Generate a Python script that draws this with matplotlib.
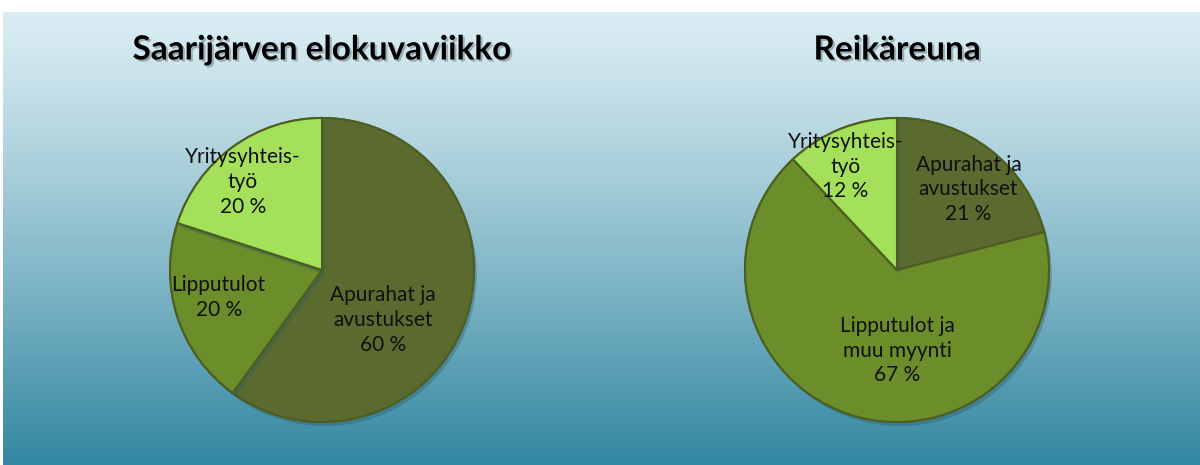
import matplotlib.pyplot as plt
import matplotlib.patheffects as pe
import numpy as np

# data
otsikko_vasen = 'Saarijärven elokuvaviikko'
nimet_vasen = ['Apurahat ja\navustukset', 'Lipputulot', 'Yritysyhteis-\ntyö']
osuudet_vasen = [60, 20, 20]

otsikko_oikea = 'Reikäreuna'
nimet_oikea = ['Apurahat ja\navustukset', 'Lipputulot ja\nmuu myynti', 'Yritysyhteis-\ntyö']
osuudet_oikea = [21, 67, 12]

varit = ['#5b6b2f', '#6b8e2b', '#a4e05a']

# label positions in radius units (Excel-like placement)
paikat_vasen = [(0.40, -0.33), (-0.68, -0.18), (-0.52, 0.58)]
paikat_oikea = [(0.47, 0.53), (0.0, -0.53), (-0.34, 0.68)]

fig = plt.figure(figsize=(12, 4.65), dpi=100)
fig.patch.set_facecolor('white')

# gradient background
tausta = fig.add_axes([3 / 1200, 0, 1 - 3 / 1200, 453 / 465])
liuku = np.linspace(0, 1, 256).reshape(-1, 1)
ylä = np.array([0.86, 0.93, 0.955])
ala = np.array([0.20, 0.53, 0.63])
kuva = ylä + (ala - ylä) * liuku[..., None] ** 1.15
tausta.imshow(kuva, aspect='auto', extent=[0, 1, 0, 1])
tausta.axis('off')

fontti = ['Lato', 'DejaVu Sans']


def piirakka(cx, otsikko, nimet, osuudet, paikat):
    r = 152
    cy = 465 - 270
    ax = fig.add_axes([(cx - r) / 1200, (cy - r) / 465, 2 * r / 1200, 2 * r / 465])
    wedges, _ = ax.pie(osuudet, colors=varit, startangle=90, counterclock=False,
                       radius=1.0,
                       wedgeprops=dict(linewidth=1.5, edgecolor='#4d5e22'))
    for w in wedges:
        w.set_path_effects([pe.withSimplePatchShadow(offset=(2, -3), shadow_rgbFace='#2a5a66', alpha=0.35),
                            pe.Normal()])
    for nimi, osuus, (x, y) in zip(nimet, osuudet, paikat):
        ax.text(x, y, '%s\n%d %%' % (nimi, osuus), ha='center', va='center',
                fontsize=15, family=fontti, color='#111111', linespacing=1.3)
    ax.set_xlim(-1, 1)
    ax.set_ylim(-1, 1)
    ax.set_aspect('auto')
    fig.text(cx / 1200, 1 - 50 / 465, otsikko, ha='center', va='center',
             fontsize=24, fontweight='bold', family=fontti, color='black',
             path_effects=[pe.withSimplePatchShadow(offset=(1.5, -1.5), shadow_rgbFace='#7a8a90', alpha=0.6)])


piirakka(322, otsikko_vasen, nimet_vasen, osuudet_vasen, paikat_vasen)
piirakka(897, otsikko_oikea, nimet_oikea, osuudet_oikea, paikat_oikea)

plt.savefig('out.png', dpi=100, facecolor=fig.get_facecolor())
plt.close()
